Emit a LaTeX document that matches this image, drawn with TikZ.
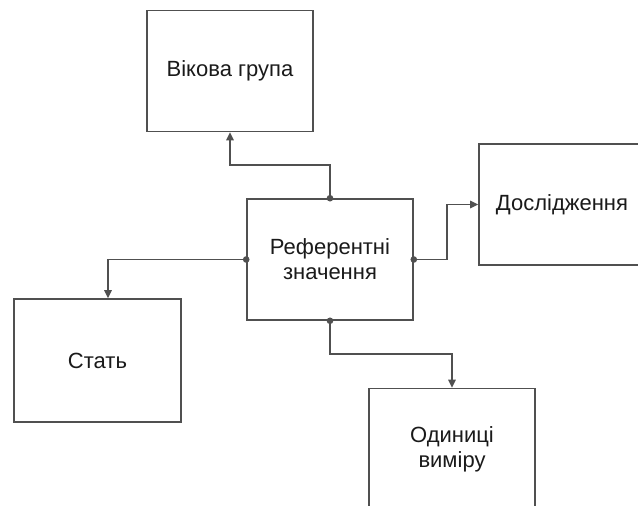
\documentclass[tikz,border=0pt]{standalone}
\usepackage{fontspec}
\setmainfont{Liberation Sans}
\usetikzlibrary{arrows.meta}
\definecolor{edge}{HTML}{505050}
\definecolor{ink}{HTML}{1A1A1A}
\begin{document}
\begin{tikzpicture}[x=1pt,y=-1pt,
  box/.style={draw=edge, line width=1.6pt, fill=white, minimum width=166pt,
    minimum height=121pt, align=center, inner sep=0pt, text=ink,
    font=\fontsize{22}{25}\selectfont},
  link/.style={draw=edge, line width=1.6pt,
    {Circle[length=6.5pt]}-{Triangle[width=7.5pt,length=8pt]}, shorten <=-3.25pt}]
  \path[use as bounding box, clip] (0,0) rectangle (638,506);
  \fill[white] (0,0) rectangle (638,506);

  % boxes
  \node[box] (ref)  at (330,259.5) {Референтні\\значення};
  \node[box] (vik)  at (230,71)    {Вікова група};
  \node[box] (dos)  at (562,204.5) {Дослідження};
  \node[box, minimum width=167pt, minimum height=123pt] (stat) at (97.5,360.5) {Стать};
  \node[box] (od)   at (452,449)   {Одиниці\\виміру};

  % connectors from the central box
  \draw[link] (ref.north) -- ++(0,-33) -| (vik.south);
  \draw[link] (ref.east)  -- ++(33,0)  |- (dos.west);
  \draw[link] (ref.west)  -| ([xshift=10.5pt]stat.north);
  \draw[link] (ref.south) -- ++(0,33)  -| (od.north);
\end{tikzpicture}
\end{document}
